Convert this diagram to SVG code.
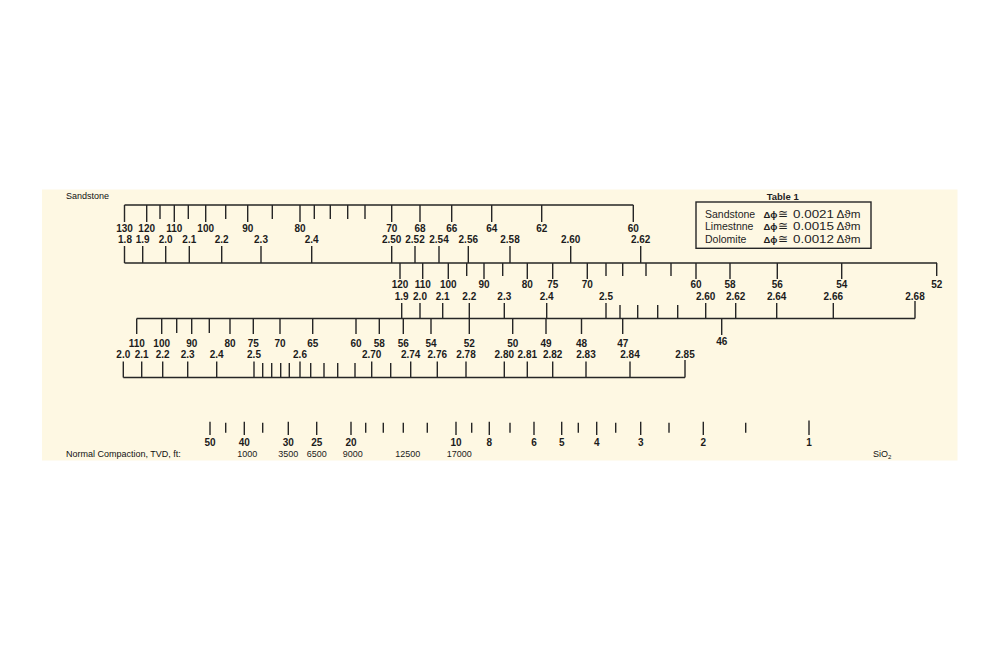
<svg xmlns="http://www.w3.org/2000/svg" width="998" height="650" viewBox="0 0 998 650">
<style>
.ln{stroke:#262626;stroke-width:1.4;fill:none}
.n{font-family:"Liberation Sans",Arial,sans-serif;font-weight:bold;font-size:10px;fill:#1c1c1c;text-anchor:middle}
.d{font-family:"Liberation Sans",Arial,sans-serif;font-size:9px;fill:#1a1a1a;text-anchor:middle}
.l{font-family:"Liberation Sans",Arial,sans-serif;font-size:9px;fill:#111}
.tb{font-family:"Liberation Sans",Arial,sans-serif;font-size:10.5px;fill:#1e1e1e}
</style>
<rect width="998" height="650" fill="#ffffff"/>
<rect x="42" y="189.5" width="915.5" height="271" fill="#fef8e3"/>

<g id="titles">
<text class="l" x="66" y="198.5">Sandstone</text>
<text class="l" x="66" y="457">Normal Compaction, TVD, ft:</text>
<text class="l" x="873" y="457">SiO<tspan font-size="6" dy="2">2</tspan></text>
</g>

<g id="scale1">
<path class="ln" d="M124.5 205H633.3M124.5 263H937
M124.5 205V222M146.7 205V222M174.3 205V222M205.7 205V222M247.7 205V222M300 205V222M391.7 205V222M420 205V222M451.7 205V222M491.7 205V222M541.7 205V222M633.3 205V222
M160 205V219M188.3 205V219M225.7 205V219M272.3 205V219M314.3 205V219M330.3 205V219M347.7 205V219M365 205V219
M124.5 246V263M142.7 246V263M165.7 246V263M189.3 246V263M221.7 246V263M261 246V263M311.7 246V263M391.7 246V263M415 246V263M439 246V263M468.3 246V263M510 246V263M570.7 246V263M640.7 246V263"/>
<g class="n">
<text x="124.5" y="231.5">130</text><text x="146.7" y="231.5">120</text><text x="174.3" y="231.5">110</text><text x="205.7" y="231.5">100</text><text x="247.7" y="231.5">90</text><text x="300" y="231.5">80</text><text x="391.7" y="231.5">70</text><text x="420" y="231.5">68</text><text x="451.7" y="231.5">66</text><text x="491.7" y="231.5">64</text><text x="541.7" y="231.5">62</text><text x="633.3" y="231.5">60</text>
<text x="125" y="242.5">1.8</text><text x="142.7" y="242.5">1.9</text><text x="165.7" y="242.5">2.0</text><text x="189.3" y="242.5">2.1</text><text x="221.7" y="242.5">2.2</text><text x="261" y="242.5">2.3</text><text x="311.7" y="242.5">2.4</text><text x="391.7" y="242.5">2.50</text><text x="415" y="242.5">2.52</text><text x="439" y="242.5">2.54</text><text x="468.3" y="242.5">2.56</text><text x="510" y="242.5">2.58</text><text x="570.7" y="242.5">2.60</text><text x="640.7" y="242.5">2.62</text>
</g>
</g>

<g id="scale2">
<path class="ln" d="M136.7 318.5H915
M400 263V279M422.7 263V279M448.3 263V279M484 263V279M527.3 263V279M552.7 263V279M587.3 263V279M696 263V279M730 263V279M777.3 263V279M841.7 263V279M936.7 263V276
M466.7 263V276M502.7 263V276M606 263V276M622.7 263V276M646 263V276M671 263V276
M401.7 303V318.5M420 303V318.5M442.7 303V318.5M469.3 303V318.5M504.3 303V318.5M546.7 303V318.5M606 303V318.5M705.7 303V318.5M735.7 303V318.5M776.7 303V318.5M833.3 303V318.5M915 301V318.5
M620 305V318.5M637.7 305V318.5M657.7 305V318.5M677.7 305V318.5"/>
<g class="n">
<text x="400" y="288.3">120</text><text x="422.7" y="288.3">110</text><text x="448.3" y="288.3">100</text><text x="484" y="288.3">90</text><text x="527.3" y="288.3">80</text><text x="552.7" y="288.3">75</text><text x="587.3" y="288.3">70</text><text x="696" y="288.3">60</text><text x="730" y="288.3">58</text><text x="777.3" y="288.3">56</text><text x="841.7" y="288.3">54</text><text x="936.7" y="288.3">52</text>
<text x="401.7" y="300">1.9</text><text x="420" y="300">2.0</text><text x="442.7" y="300">2.1</text><text x="469.3" y="300">2.2</text><text x="504.3" y="300">2.3</text><text x="546.7" y="300">2.4</text><text x="606" y="300">2.5</text><text x="705.7" y="300">2.60</text><text x="735.7" y="300">2.62</text><text x="776.7" y="300">2.64</text><text x="833.3" y="300">2.66</text><text x="915" y="300">2.68</text>
</g>
</g>

<g id="scale3">
<path class="ln" d="M123.3 377.5H685
M136.7 318.5V334M161.7 318.5V334M191.7 318.5V334M230 318.5V334M253.3 318.5V334M280 318.5V334M312.7 318.5V334M356 318.5V334M379.3 318.5V334M403.3 318.5V334M431 318.5V334M469.3 318.5V334M512.7 318.5V334M546 318.5V334M581.5 318.5V334M622.7 318.5V334M721.7 318.5V335
M176.7 318.5V333M209.3 318.5V333
M123.3 361.5V377.5M141.7 361.5V377.5M162.7 361.5V377.5M187.7 361.5V377.5M216.7 361.5V377.5M254 361.5V377.5M300 361.5V377.5M371.7 361.5V377.5M410.7 361.5V377.5M437.3 361.5V377.5M466 361.5V377.5M504.3 361.5V377.5M527.3 361.5V377.5M552.7 361.5V377.5M586 361.5V377.5M630 361.5V377.5M685 360V377.5
M262.7 363V377.5M271.7 363V377.5M280.7 363V377.5M289.3 363V377.5M310.7 363V377.5M324 363V377.5M337.7 363V377.5M355 363V377.5M390.7 363V377.5"/>
<g class="n">
<text x="136.7" y="346.5">110</text><text x="161.7" y="346.5">100</text><text x="191.7" y="346.5">90</text><text x="230" y="346.5">80</text><text x="253.3" y="346.5">75</text><text x="280" y="346.5">70</text><text x="312.7" y="346.5">65</text><text x="356" y="346.5">60</text><text x="379.3" y="346.5">58</text><text x="403.3" y="346.5">56</text><text x="431" y="346.5">54</text><text x="469.3" y="346.5">52</text><text x="512.7" y="346.5">50</text><text x="546" y="346.5">49</text><text x="581.5" y="346.5">48</text><text x="622.7" y="346.5">47</text><text x="721.7" y="344.7">46</text>
<text x="123.3" y="357.7">2.0</text><text x="141.7" y="357.7">2.1</text><text x="162.7" y="357.7">2.2</text><text x="187.7" y="357.7">2.3</text><text x="216.7" y="357.7">2.4</text><text x="254" y="357.7">2.5</text><text x="300" y="357.7">2.6</text><text x="371.7" y="357.7">2.70</text><text x="410.7" y="357.7">2.74</text><text x="437.3" y="357.7">2.76</text><text x="466" y="357.7">2.78</text><text x="504.3" y="357.7">2.80</text><text x="527.3" y="357.7">2.81</text><text x="552.7" y="357.7">2.82</text><text x="586" y="357.7">2.83</text><text x="630" y="357.7">2.84</text><text x="685" y="357.7">2.85</text>
</g>
</g>

<g id="compaction-axis">
<path class="ln" d="M210 421.7V435M244.3 421.7V435M288.3 421.7V435M316.7 421.7V435M351 421.7V435M456 421.7V435M489.3 421.7V435M534 421.7V435M561.7 421.7V435M596.7 421.7V435M640.7 421.7V435M703.3 421.7V435M809 420.5V435
M225.7 422.7V432.7M262.7 422.7V432.7M365.7 422.7V432.7M383.3 422.7V432.7M403.3 422.7V432.7M427.3 422.7V432.7M471.7 422.7V432.7M510 422.7V432.7M578.3 422.7V432.7M615.7 422.7V432.7M669 422.7V432.7M745.7 422.7V432.7"/>
<g class="n">
<text x="210" y="446">50</text><text x="244.3" y="446">40</text><text x="288.3" y="446">30</text><text x="316.7" y="446">25</text><text x="351" y="446">20</text><text x="456" y="446">10</text><text x="489.3" y="446">8</text><text x="534" y="446">6</text><text x="561.7" y="446">5</text><text x="596.7" y="446">4</text><text x="640.7" y="446">3</text><text x="703.3" y="446">2</text><text x="809" y="446">1</text>
</g>
<g class="d">
<text x="247.3" y="457">1000</text><text x="288.3" y="457">3500</text><text x="316.7" y="457">6500</text><text x="352.7" y="457">9000</text><text x="407.7" y="457">12500</text><text x="459.3" y="457">17000</text>
</g>
</g>

<g id="table1">
<text x="782.7" y="199.5" font-family="Liberation Sans, Arial, sans-serif" font-weight="bold" font-size="9.5" fill="#1e1e1e" text-anchor="middle">Table 1</text>
<rect class="ln" x="696" y="202" width="175" height="46.3"/>
<g class="tb">
<text x="705" y="217.5">Sandstone</text>
<text x="705" y="230">Limestnne</text>
<text x="705" y="242.5">Dolomite</text>
<text x="763.5" y="217.5" font-weight="bold" font-size="9.5">Δϕ</text>
<text x="763.5" y="230" font-weight="bold" font-size="9.5">Δϕ</text>
<text x="763.5" y="242.5" font-weight="bold" font-size="9.5">Δϕ</text>
<text x="777.5" y="217.5" font-size="12">≅</text>
<text x="777.5" y="230" font-size="12">≅</text>
<text x="777.5" y="242.5" font-size="12">≅</text>
<text x="793" y="217.5" textLength="41" lengthAdjust="spacingAndGlyphs">0.0021</text>
<text x="793" y="230" textLength="41" lengthAdjust="spacingAndGlyphs">0.0015</text>
<text x="793" y="242.5" textLength="41" lengthAdjust="spacingAndGlyphs">0.0012</text>
<text x="836.5" y="217.5" textLength="24" lengthAdjust="spacingAndGlyphs">Δϑm</text>
<text x="836.5" y="230" textLength="24" lengthAdjust="spacingAndGlyphs">Δϑm</text>
<text x="836.5" y="242.5" textLength="24" lengthAdjust="spacingAndGlyphs">Δϑm</text>
</g>
</g>
</svg>
